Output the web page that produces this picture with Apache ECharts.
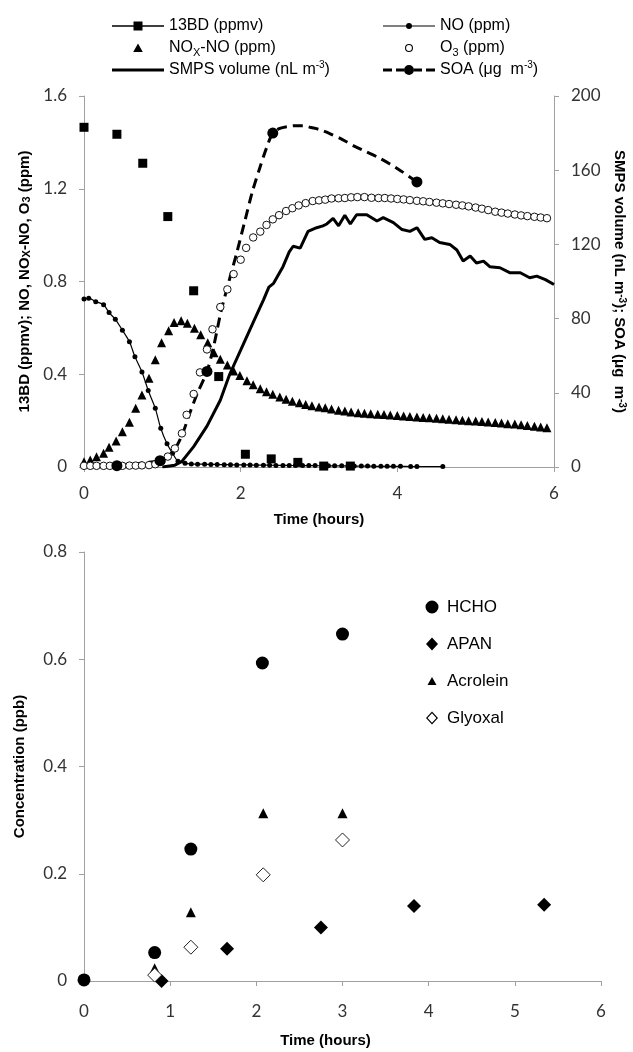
<!DOCTYPE html>
<html>
<head>
<meta charset="utf-8">
<script src="https://cdn.jsdelivr.net/npm/echarts@6.0.0/dist/echarts.min.js"></script>
<style>
  html, body { margin: 0; padding: 0; background: #fff; }
  #chart { width: 633px; height: 1052px; }
</style>
</head>
<body>
<div id="chart"></div>
<script>
// ---- top panel: chamber run ----
var bdTimes = [0, 0.42, 0.75, 1.07, 1.40, 1.72, 2.06, 2.39, 2.73, 3.06, 3.40];
var bdValues = [1.465, 1.435, 1.31, 1.08, 0.76, 0.39, 0.055, 0.035, 0.02, 0.004, 0.004];

var noTimes = [0, 0.06, 0.15, 0.25, 0.32, 0.40, 0.49, 0.58, 0.65, 0.74, 0.82, 0.91, 0.98, 1.06, 1.13, 1.20, 1.29, 1.37, 1.45, 1.54,
  1.62, 1.70, 1.79, 1.87, 1.95, 2.04, 2.12, 2.20, 2.29, 2.37, 2.45, 2.54, 2.62, 2.70, 2.79, 2.87, 2.95, 3.04, 3.12, 3.20,
  3.29, 3.37, 3.45, 3.54, 3.62, 3.70, 3.79, 3.87, 3.95, 4.04, 4.17, 4.25, 4.58];
var noValues = [0.724, 0.728, 0.713, 0.70, 0.666, 0.637, 0.59, 0.54, 0.476, 0.41, 0.33, 0.253, 0.167, 0.10, 0.059, 0.025, 0.016, 0.013, 0.012, 0.012,
  0.011, 0.011, 0.010, 0.010, 0.009, 0.009, 0.009, 0.008, 0.008, 0.008, 0.007, 0.007, 0.007, 0.006, 0.006, 0.006, 0.006, 0.005, 0.005, 0.005,
  0.005, 0.004, 0.004, 0.004, 0.004, 0.003, 0.003, 0.003, 0.003, 0.003, 0.002, 0.002, 0.002];

var noxTimes = [0, 0.08, 0.16, 0.25, 0.32, 0.41, 0.49, 0.58, 0.66, 0.74, 0.83, 0.91, 0.99, 1.08, 1.15, 1.24, 1.32, 1.41, 1.49, 1.58,
  1.66, 1.74, 1.83, 1.91, 1.99, 2.08, 2.16, 2.25, 2.33, 2.41, 2.50, 2.58, 2.66, 2.75, 2.83, 2.91, 3.00, 3.08, 3.16, 3.25,
  3.33, 3.41, 3.50, 3.58, 3.66, 3.75, 3.83, 3.91, 4.00, 4.08, 4.16, 4.25, 4.33, 4.41, 4.50, 4.58, 4.66, 4.75, 4.83, 4.91,
  5.00, 5.08, 5.16, 5.25, 5.33, 5.41, 5.50, 5.58, 5.66, 5.75, 5.83, 5.91];
var noxValues = [0.023, 0.030, 0.044, 0.059, 0.085, 0.112, 0.152, 0.193, 0.253, 0.311, 0.383, 0.462, 0.536, 0.588, 0.623, 0.631, 0.62, 0.598, 0.57, 0.536,
  0.493, 0.465, 0.44, 0.414, 0.395, 0.372, 0.355, 0.337, 0.325, 0.314, 0.302, 0.292, 0.284, 0.277, 0.270, 0.264, 0.259, 0.255, 0.250, 0.245,
  0.241, 0.237, 0.234, 0.232, 0.230, 0.228, 0.226, 0.224, 0.222, 0.220, 0.218, 0.216, 0.214, 0.212, 0.210, 0.208, 0.206, 0.204, 0.202, 0.200,
  0.198, 0.196, 0.194, 0.192, 0.190, 0.187, 0.185, 0.182, 0.179, 0.176, 0.173, 0.169];

var o3Times = [0, 0.08, 0.16, 0.25, 0.33, 0.41, 0.49, 0.58, 0.66, 0.74, 0.83, 0.91, 0.99, 1.07, 1.16, 1.25, 1.31, 1.40, 1.48, 1.57,
  1.64, 1.74, 1.83, 1.91, 2.00, 2.07, 2.16, 2.25, 2.33, 2.41, 2.49, 2.58, 2.66, 2.74, 2.83, 2.92, 3.00, 3.08, 3.16, 3.25,
  3.33, 3.41, 3.49, 3.58, 3.67, 3.76, 3.84, 3.92, 4.00, 4.08, 4.16, 4.25, 4.33, 4.41, 4.50, 4.58, 4.66, 4.75, 4.83, 4.91,
  5.00, 5.08, 5.16, 5.25, 5.33, 5.41, 5.50, 5.58, 5.66, 5.75, 5.83, 5.91];
var o3Values = [0.005, 0.005, 0.005, 0.005, 0.005, 0.005, 0.005, 0.006, 0.006, 0.007, 0.008, 0.012, 0.025, 0.045, 0.08, 0.145, 0.225, 0.315, 0.408, 0.507,
  0.594, 0.69, 0.766, 0.832, 0.894, 0.945, 0.99, 1.015, 1.044, 1.068, 1.086, 1.104, 1.116, 1.128, 1.138, 1.147, 1.150, 1.153, 1.158, 1.159,
  1.160, 1.163, 1.164, 1.164, 1.161, 1.160, 1.160, 1.158, 1.156, 1.154, 1.151, 1.148, 1.146, 1.143, 1.140, 1.137, 1.134, 1.131, 1.128, 1.124,
  1.119, 1.114, 1.108, 1.101, 1.097, 1.093, 1.089, 1.085, 1.082, 1.079, 1.076, 1.073];

var smpsTimes = [1.0, 1.16, 1.25, 1.40, 1.57, 1.74, 1.86, 2.00, 2.16, 2.29, 2.36, 2.42, 2.54, 2.62, 2.67, 2.76, 2.86, 2.97, 3.05, 3.10,
  3.18, 3.25, 3.33, 3.40, 3.48, 3.61, 3.74, 3.82, 3.95, 4.06, 4.16, 4.25, 4.35, 4.44, 4.54, 4.67, 4.76, 4.84, 4.93, 5.01,
  5.10, 5.18, 5.31, 5.44, 5.57, 5.69, 5.78, 5.89, 6.0];
var smpsValues = [0, 1, 3, 11, 22, 36, 50, 63, 78, 90, 97, 99, 108, 116, 119, 118, 127, 129, 130, 131,
  134, 130, 135.7, 131, 136, 136, 132.6, 134.4, 131.7, 128, 127, 129, 122.7, 123.6, 121, 120, 117, 111, 113.7, 110,
  111, 108, 107.4, 104.7, 104.7, 102, 102.9, 101, 98.4];

var soaCurveTimes = [0.42, 0.97, 1.05, 1.15, 1.25, 1.35, 1.45, 1.57, 1.65, 1.75, 1.85, 1.95, 2.05, 2.15, 2.25, 2.33, 2.41,
  2.50, 2.60, 2.70, 2.80, 2.90, 3.00, 3.15, 3.30, 3.45, 3.60, 3.75, 3.90, 4.05, 4.25];
var soaCurveValues = [0.7, 3.4, 5, 9, 17, 29, 40, 51.5, 64, 84, 100, 115.5, 132, 148.5, 162, 172, 180,
  182.5, 183.5, 184, 184, 183, 182, 179.5, 176.5, 173, 170, 167, 163.5, 159.5, 153.7];
var soaPointTimes = [0.42, 0.97, 1.57, 2.41, 4.25];
var soaPointValues = [0.7, 3.4, 51.5, 180, 153.7];

// ---- bottom panel: carbonyl products ----
var hchoTimes = [0, 0.82, 1.24, 2.07, 3.0];
var hchoValues = [0.002, 0.053, 0.246, 0.593, 0.647];
var apanTimes = [0.90, 1.66, 2.75, 3.83, 5.34];
var apanValues = [0.0, 0.060, 0.100, 0.140, 0.142];
var acroleinTimes = [0.82, 1.24, 2.08, 3.0];
var acroleinValues = [0.024, 0.128, 0.313, 0.313];
var glyoxalTimes = [0.82, 1.24, 2.08, 3.0];
var glyoxalValues = [0.011, 0.063, 0.198, 0.263];

function pairs(xs, ys) {
  return xs.map(function (x, i) { return [x, ys[i]]; });
}

var tickFont = { fontFamily: 'Lato', fontSize: 17, color: '#333' };
var titleFont = { fontFamily: 'Liberation Sans', fontWeight: 'bold', fontSize: 15, color: '#000' };
var axisGray = '#a0a0a0';
var richScript = {
  sub: { fontFamily: 'Liberation Sans', fontSize: 11, lineHeight: 11, verticalAlign: 'bottom', color: '#000' },
  sup: { fontFamily: 'Liberation Sans', fontSize: 10, lineHeight: 10, verticalAlign: 'top', color: '#000' }
};
var richScriptBold = {
  sub: { fontFamily: 'Liberation Sans', fontWeight: 'bold', fontSize: 11, lineHeight: 11, verticalAlign: 'bottom', color: '#000' },
  sup: { fontFamily: 'Liberation Sans', fontWeight: 'bold', fontSize: 10, lineHeight: 10, verticalAlign: 'top', color: '#000' }
};

function baseAxis(extra) {
  var a = {
    type: 'value',
    axisLine: { show: true, lineStyle: { color: axisGray, width: 1 } },
    axisTick: { show: true, inside: false, length: 5, lineStyle: { color: axisGray } },
    splitLine: { show: false },
    axisLabel: Object.assign({ margin: 17 }, tickFont),
    nameLocation: 'middle'
  };
  return Object.assign(a, extra);
}

// legend icons (box corners keep every icon at scale 1)
var box52 = 'M0 0L0 0Z M52 12L52 12Z ';
var box20 = 'M0 0L0 0Z M20 14L20 14Z ';
var iconBD = 'path://' + box52 + 'M0 5.2L52 5.2L52 6.8L0 6.8Z M21.5 1.5L30.5 1.5L30.5 10.5L21.5 10.5Z';
var iconNO = 'path://' + box52 + 'M0 5.4L52 5.4L52 6.6L0 6.6Z M23 6A3 3 0 1 1 29 6A3 3 0 1 1 23 6Z';
var iconNOX = 'path://' + box52 + 'M26 1.5L30.8 10L21.2 10Z';
var iconO3 = 'path://' + box52 + 'M22 6A4 4 0 1 1 30 6A4 4 0 1 1 22 6Z M23.1 6A2.9 2.9 0 1 0 28.9 6A2.9 2.9 0 1 0 23.1 6Z';
var iconSMPS = 'path://' + box52 + 'M0 4.5L52 4.5L52 7.5L0 7.5Z';
var iconSOA = 'path://' + box52 + 'M0 4.5L9 4.5L9 7.5L0 7.5Z M13 4.5L21 4.5L21 7.5L13 7.5Z M31 4.5L39 4.5L39 7.5L31 7.5Z M43 4.5L52 4.5L52 7.5L43 7.5Z M21 6A5 5 0 1 1 31 6A5 5 0 1 1 21 6Z';
var iconHCHO = 'path://' + box20 + 'M3.5 7A6.5 6.5 0 1 1 16.5 7A6.5 6.5 0 1 1 3.5 7Z';
var iconAPAN = 'path://' + box20 + 'M10 0.5L16 7L10 13.5L4 7Z';
var iconAcro = 'path://' + box20 + 'M10 3L14.5 11L5.5 11Z';
var iconGly = 'path://' + box20 + 'M10 0.5L16 7L10 13.5L4 7Z M10 2.2L5.6 7L10 11.8L14.4 7Z';

var legendNames = {
  'NOx-NO (ppm)': 'NO{sub|X}-NO (ppm)',
  'SMPS volume (nL m-3)': 'SMPS volume (nL m{sup|-3})',
  'O3 (ppm)': 'O{sub|3} (ppm)',
  'SOA (μg m-3)': 'SOA (μg  m{sup|-3})'
};
var legendText = {
  fontFamily: 'Liberation Sans', fontSize: 16, lineHeight: 20, color: '#000', rich: richScript
};
function topLegend(left, items) {
  return {
    orient: 'vertical', left: left, top: 11, itemWidth: 52, itemHeight: 12, itemGap: 2,
    selectedMode: false,
    itemStyle: { color: '#000', borderWidth: 0, opacity: 1 },
    textStyle: legendText,
    formatter: function (n) { return legendNames[n] || n; },
    data: items
  };
}

var chart = echarts.init(document.getElementById('chart'));
var option = {
  animation: false,
  backgroundColor: '#fff',
  legend: [
    topLegend(107, [
      { name: '13BD (ppmv)', icon: iconBD },
      { name: 'NOx-NO (ppm)', icon: iconNOX },
      { name: 'SMPS volume (nL m-3)', icon: iconSMPS }
    ]),
    topLegend(378, [
      { name: 'NO (ppm)', icon: iconNO },
      { name: 'O3 (ppm)', icon: iconO3 },
      { name: 'SOA (μg m-3)', icon: iconSOA }
    ]),
    {
      orient: 'vertical', left: 417, top: 592, itemWidth: 20, itemHeight: 14, itemGap: 17,
      selectedMode: false,
      itemStyle: { color: '#000', borderWidth: 0, opacity: 1 },
      textStyle: { fontFamily: 'Liberation Sans', fontSize: 17, lineHeight: 20, color: '#000' },
      data: [
        { name: 'HCHO', icon: iconHCHO },
        { name: 'APAN', icon: iconAPAN },
        { name: 'Acrolein', icon: iconAcro },
        { name: 'Glyoxal', icon: iconGly }
      ]
    }
  ],
  grid: [
    { left: 84, right: 79, top: 96, height: 371, outerBoundsMode: 'none' },
    { left: 84, right: 32, top: 552, height: 429, outerBoundsMode: 'none' }
  ],
  xAxis: [
    baseAxis({
      gridIndex: 0, min: 0, max: 6, interval: 2,
      axisLabel: Object.assign({ margin: 18 }, tickFont),
      name: 'Time (hours)', nameGap: 45, nameTextStyle: titleFont
    }),
    baseAxis({
      gridIndex: 1, min: 0, max: 6, interval: 1,
      axisLabel: Object.assign({ margin: 22 }, tickFont),
      name: 'Time (hours)', nameGap: 52,
      nameTextStyle: Object.assign({ padding: [0, 34, 0, 0] }, titleFont)
    })
  ],
  yAxis: [
    baseAxis({
      gridIndex: 0, min: 0, max: 1.6, interval: 0.4, position: 'left',
      name: '13BD (ppmv); NO, NO{sub|X}-NO, O{sub|3} (ppm)', nameRotate: 90, nameGap: 47,
      nameTextStyle: Object.assign({ rich: richScriptBold }, titleFont)
    }),
    baseAxis({
      gridIndex: 0, min: 0, max: 200, interval: 40, position: 'right',
      name: 'SMPS volume (nL m{sup|-3}); SOA (μg  m{sup|-3})', nameRotate: -90, nameGap: 57,
      nameTextStyle: Object.assign({ rich: richScriptBold }, titleFont)
    }),
    baseAxis({
      gridIndex: 1, min: 0, max: 0.8, interval: 0.2, position: 'left',
      name: 'Concentration (ppb)', nameRotate: 90, nameGap: 57, nameTextStyle: titleFont
    })
  ],
  series: [
    {
      name: 'SMPS volume (nL m-3)', type: 'line', xAxisIndex: 0, yAxisIndex: 1,
      data: pairs(smpsTimes, smpsValues), symbol: 'none', showSymbol: false,
      lineStyle: { color: '#000', width: 3 }, itemStyle: { color: '#000' }, z: 2
    },
    {
      name: 'SOA (μg m-3)', type: 'line', xAxisIndex: 0, yAxisIndex: 1,
      data: pairs(soaCurveTimes, soaCurveValues), symbol: 'none', showSymbol: false,
      smooth: 0.3,
      lineStyle: { color: '#000', width: 3, type: [10, 6] }, itemStyle: { color: '#000' }, z: 2
    },
    {
      name: 'SOA (μg m-3)', type: 'scatter', xAxisIndex: 0, yAxisIndex: 1,
      data: pairs(soaPointTimes, soaPointValues), symbol: 'circle', symbolSize: 11,
      itemStyle: { color: '#000', opacity: 1 }, z: 4
    },
    {
      name: 'NO (ppm)', type: 'line', xAxisIndex: 0, yAxisIndex: 0,
      data: pairs(noTimes, noValues), symbol: 'circle', symbolSize: 5, showSymbol: true,
      smooth: 0.3, lineStyle: { color: '#000', width: 1.2 }, itemStyle: { color: '#000', opacity: 1 }, z: 3
    },
    {
      name: 'NOx-NO (ppm)', type: 'scatter', xAxisIndex: 0, yAxisIndex: 0,
      data: pairs(noxTimes, noxValues), symbol: 'triangle', symbolSize: 9,
      itemStyle: { color: '#000', opacity: 1 }, z: 3
    },
    {
      name: 'O3 (ppm)', type: 'scatter', xAxisIndex: 0, yAxisIndex: 0,
      data: pairs(o3Times, o3Values), symbol: 'circle', symbolSize: 7.5,
      itemStyle: { color: '#fff', borderColor: '#111', borderWidth: 1, opacity: 1 }, z: 3
    },
    {
      name: '13BD (ppmv)', type: 'scatter', xAxisIndex: 0, yAxisIndex: 0,
      data: pairs(bdTimes, bdValues), symbol: 'rect', symbolSize: 9,
      itemStyle: { color: '#000', opacity: 1 }, z: 4
    },
    {
      name: 'HCHO', type: 'scatter', xAxisIndex: 1, yAxisIndex: 2,
      data: pairs(hchoTimes, hchoValues), symbol: 'circle', symbolSize: 13,
      itemStyle: { color: '#000', opacity: 1 }
    },
    {
      name: 'APAN', type: 'scatter', xAxisIndex: 1, yAxisIndex: 2,
      data: pairs(apanTimes, apanValues), symbol: 'diamond', symbolSize: 14,
      itemStyle: { color: '#000', opacity: 1 }
    },
    {
      name: 'Acrolein', type: 'scatter', xAxisIndex: 1, yAxisIndex: 2,
      data: pairs(acroleinTimes, acroleinValues), symbol: 'triangle', symbolSize: 10,
      itemStyle: { color: '#000', opacity: 1 }
    },
    {
      name: 'Glyoxal', type: 'scatter', xAxisIndex: 1, yAxisIndex: 2,
      data: pairs(glyoxalTimes, glyoxalValues), symbol: 'diamond', symbolSize: 14,
      itemStyle: { color: '#fff', borderColor: '#222', borderWidth: 1, opacity: 1 }
    }
  ]
};
chart.setOption(option);
</script>
</body>
</html>
